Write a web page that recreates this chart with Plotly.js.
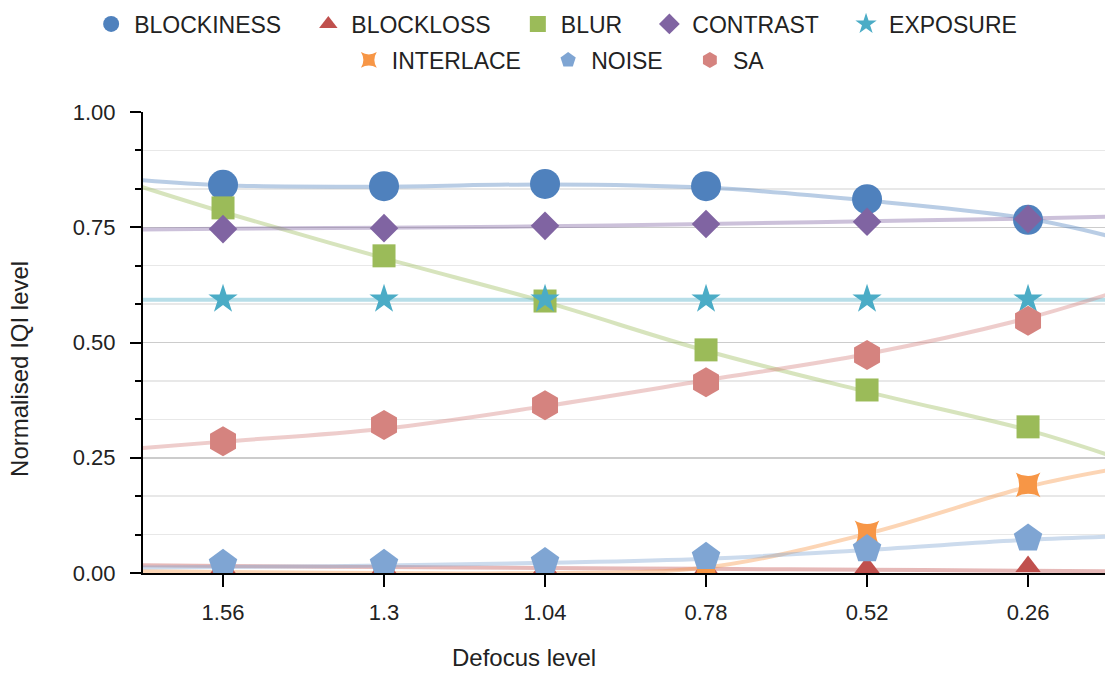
<!DOCTYPE html>
<html>
<head>
<meta charset="utf-8">
<script src="https://cdn.plot.ly/plotly-3.0.1.min.js"></script>
<style>html,body{margin:0;padding:0;background:#fff;}#chart{width:1105px;height:673px;}</style>
</head>
<body>
<div id="chart"></div>
<script>
// ---- data ----
const categories = ['1.56', '1.3', '1.04', '0.78', '0.52', '0.26'];
const catIndex = [0, 1, 2, 3, 4, 5];

const blockiness = [0.842, 0.839, 0.844, 0.839, 0.811, 0.766];
const blockloss  = [0.012, 0.011, 0.010, 0.009, 0.012, 0.014];
const blur       = [0.792, 0.688, 0.590, 0.484, 0.397, 0.317];
const contrast   = [0.746, 0.748, 0.753, 0.757, 0.762, 0.768];
const exposure   = [0.594, 0.594, 0.594, 0.594, 0.594, 0.594];
const interlace  = [0.000, 0.000, 0.003, 0.012, 0.087, 0.191];
const noise      = [0.020, 0.020, 0.024, 0.035, 0.052, 0.075];
const sa         = [0.286, 0.321, 0.364, 0.414, 0.473, 0.547];

// trendline values, at these category positions
const trendX          = [-0.5, 0, 1, 2, 3, 4, 5, 5.5];
const blockinessTrend = [0.852, 0.841, 0.838, 0.843, 0.836, 0.808, 0.769, 0.731];
const blocklossTrend  = [0.017, 0.015, 0.013, 0.011, 0.009, 0.007, 0.005, 0.004];
const blurTrend       = [0.837, 0.783, 0.683, 0.588, 0.482, 0.393, 0.310, 0.256];
const contrastTrend   = [0.745, 0.747, 0.749, 0.752, 0.757, 0.763, 0.769, 0.773];
const exposureTrend   = [0.593, 0.593, 0.593, 0.593, 0.593, 0.593, 0.593, 0.593];
const interlaceTrend  = [0.004, 0.002, 0.000, 0.000, 0.012, 0.085, 0.187, 0.223];
const noiseTrend      = [0.012, 0.013, 0.016, 0.022, 0.031, 0.050, 0.072, 0.079];
const saTrend         = [0.271, 0.285, 0.313, 0.362, 0.418, 0.475, 0.553, 0.605];

const yTickVals = [0, 0.25, 0.5, 0.75, 1];
const yTickText = ['0.00', '0.25', '0.50', '0.75', '1.00'];

// ---- series definitions ----
const series = [
  {name: 'BLOCKINESS', y: blockiness, t: blockinessTrend, color: '#4F81BD', symbol: 'circle',       size: 30, angle: 0,  legend: 'legend'},
  {name: 'BLOCKLOSS',  y: blockloss,  t: blocklossTrend,  color: '#C0504D', symbol: 'triangle-up',  size: 22, angle: 0,  legend: 'legend'},
  {name: 'BLUR',       y: blur,       t: blurTrend,       color: '#9BBB59', symbol: 'square',       size: 23, angle: 0,  legend: 'legend'},
  {name: 'CONTRAST',   y: contrast,   t: contrastTrend,   color: '#8064A2', symbol: 'diamond',      size: 22, angle: 0,  legend: 'legend'},
  {name: 'EXPOSURE',   y: exposure,   t: exposureTrend,   color: '#4BACC6', symbol: 'star',         size: 22, angle: 0,  legend: 'legend'},
  {name: 'INTERLACE',  y: interlace,  t: interlaceTrend,  color: '#F79646', symbol: 'star-diamond', size: 25, angle: 45, legend: 'legend2'},
  {name: 'NOISE',      y: noise,      t: noiseTrend,      color: '#7FA5D3', symbol: 'pentagon',     size: 30, angle: 0,  legend: 'legend2'},
  {name: 'SA',         y: sa,         t: saTrend,         color: '#D5837F', symbol: 'hexagon',      size: 30, angle: 0,  legend: 'legend2'}
];

const pad = '\u00a0\u00a0\u00a0';
const traces = [];
series.forEach(s => {
  traces.push({
    type: 'scatter', mode: 'lines', x: trendX, y: s.t,
    line: {color: s.color, width: 4, shape: 'spline', smoothing: 1},
    opacity: 0.4, showlegend: false, hoverinfo: 'skip'
  });
});
series.forEach(s => {
  traces.push({
    type: 'scatter', mode: 'markers', x: catIndex, y: s.y, name: s.name + pad,
    legend: s.legend,
    marker: {symbol: s.symbol, size: s.size, angle: s.angle, color: s.color, line: {width: 0}}
  });
});

const font = {family: '"Liberation Sans", Arial, sans-serif', color: '#222'};
const xr = [-0.497, 5.478];
const yr = [0, 1];

const layout = {
  width: 1105, height: 673,
  margin: {l: 143, r: 0, t: 112, b: 100, autoexpand: false},
  paper_bgcolor: '#fff', plot_bgcolor: '#fff',
  font: font,
  showlegend: true,
  xaxis: {
    range: xr, tickmode: 'array', tickvals: catIndex, ticktext: categories,
    ticks: 'outside', ticklen: 12, tickwidth: 2, tickcolor: '#000',
    showline: true, linecolor: '#000', linewidth: 2,
    showgrid: false, zeroline: false, fixedrange: true,
    tickfont: {size: 22, color: '#222', family: font.family},
    ticklabelstandoff: 7
  },
  yaxis: {
    range: yr, tickmode: 'array', tickvals: yTickVals, ticktext: yTickText,
    ticks: 'outside', ticklen: 11, tickwidth: 2, tickcolor: '#000',
    showline: true, linecolor: '#000', linewidth: 2,
    showgrid: true, gridcolor: '#cccccc', gridwidth: 1.5,
    zeroline: false, fixedrange: true,
    tickfont: {size: 22, color: '#222', family: font.family},
    ticklabelstandoff: 10,
    minor: {dtick: 1/12, tick0: 0, ticks: 'outside', ticklen: 6, tickwidth: 2, tickcolor: '#000',
            showgrid: true, gridcolor: '#e8e8e8', gridwidth: 1.5}
  },
  xaxis2: {
    overlaying: 'x', anchor: 'y2', range: xr, tickmode: 'array', tickvals: catIndex,
    ticks: 'inside', ticklen: 11, tickwidth: 2, tickcolor: '#000',
    showticklabels: false, showline: false, showgrid: false, zeroline: false, fixedrange: true
  },
  yaxis2: {
    overlaying: 'y', anchor: 'x2', range: yr, tickmode: 'array', tickvals: yTickVals,
    ticks: 'inside', ticklen: 11, tickwidth: 2, tickcolor: '#000',
    showticklabels: false, showline: false, showgrid: false, zeroline: false, fixedrange: true,
    minor: {dtick: 1/12, tick0: 0, ticks: 'inside', ticklen: 5, tickwidth: 2, tickcolor: '#000', showgrid: false}
  },
  legend: {
    orientation: 'h', xref: 'container', yref: 'container', x: 0.511, xanchor: 'center',
    y: 1 - 24/673, yanchor: 'middle', font: {size: 23, color: '#222', family: font.family},
    itemwidth: 36,
    bgcolor: 'rgba(0,0,0,0)', itemclick: false, itemdoubleclick: false
  },
  legend2: {
    orientation: 'h', xref: 'container', yref: 'container', x: 0.513, xanchor: 'center',
    y: 1 - 60/673, yanchor: 'middle', font: {size: 23, color: '#222', family: font.family},
    itemwidth: 36,
    bgcolor: 'rgba(0,0,0,0)', itemclick: false, itemdoubleclick: false
  },
  annotations: [
    {text: 'Defocus level', xref: 'paper', yref: 'paper', x: 0.396, y: -0.183,
     xanchor: 'center', yanchor: 'middle', showarrow: false,
     font: {size: 24, color: '#222', family: font.family}},
    {text: 'Normalised IQI level', xref: 'paper', yref: 'paper', x: -0.129, y: 0.4425,
     xanchor: 'center', yanchor: 'middle', showarrow: false, textangle: -90,
     font: {size: 24, color: '#222', family: font.family}}
  ]
};

Plotly.newPlot('chart', traces, layout, {displayModeBar: false, staticPlot: true});
</script>
</body>
</html>
